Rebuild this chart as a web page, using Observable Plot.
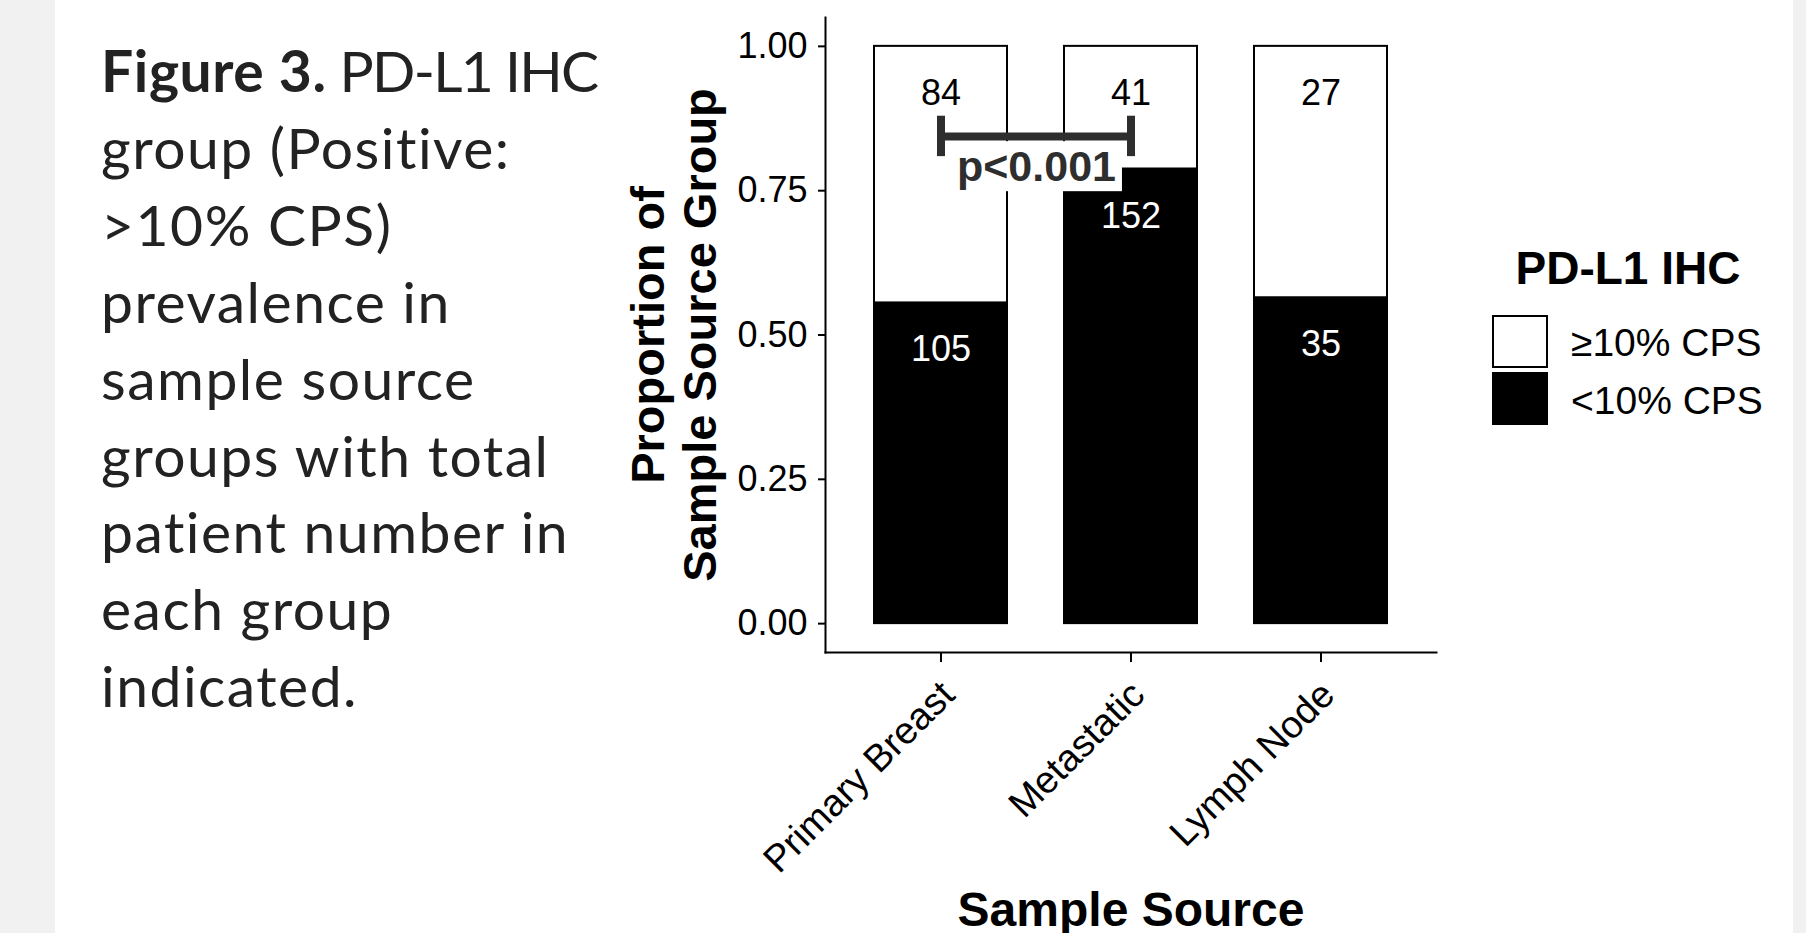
<!DOCTYPE html>
<html><head><meta charset="utf-8">
<script src="https://cdn.jsdelivr.net/npm/d3@7"></script>
<script src="https://cdn.jsdelivr.net/npm/@observablehq/plot@0.6"></script>
<style>
html,body{margin:0;padding:0;width:1806px;height:933px;overflow:hidden;background:#f1f1f1;}
#page{position:absolute;left:55px;top:0;width:1738px;height:933px;background:#fff;}
#caption{position:absolute;left:101px;top:32px;font-family:Lato,"Open Sans",sans-serif;font-size:57px;line-height:76.9px;letter-spacing:1.5px;color:#222;white-space:nowrap;}
#caption b{letter-spacing:0.6px;}
#caption .caps{letter-spacing:-1.7px;}
#chart{position:absolute;left:0;top:0;}
.lg{position:absolute;font-family:"Liberation Sans",Arial,sans-serif;color:#000;white-space:nowrap;}
.key{position:absolute;box-sizing:border-box;border:2px solid #000;}
</style></head><body>
<div id="page"></div>
<div id="caption"></div>
<div id="chart"></div>
<div id="legend"></div>
<script>
// ---- data ----
const sources = ["Primary Breast", "Metastatic", "Lymph Node"];
const groups = ["<10% CPS", "≥10% CPS"];          // stacking order, bottom to top
const countsLow = [105, 152, 35];                 // <10% CPS
const countsHigh = [84, 41, 27];                  // ≥10% CPS
const fillColors = ["#000000", "#ffffff"];
const textColors = ["#ffffff", "#000000"];
const legendOrder = ["≥10% CPS", "<10% CPS"];
const legendTitle = "PD-L1 IHC";
const yTicks = [0, 0.25, 0.5, 0.75, 1];
const yDomain = [-0.05, 1.05];
const sigPair = ["Primary Breast", "Metastatic"];
const sigLabel = "p<0.001";
const sigY = 0.844;
const sigTick = 0.035;
const yTitle = "Proportion of\nSample Source Group";
const xTitle = "Sample Source";
const captionBold = "Figure 3.";
const captionLines = [" PD-L1 IHC", "group (Positive:", ">10% CPS)", "prevalence in", "sample source", "groups with total", "patient number in", "each group", "indicated."];

// ---- caption ----
const cap = document.getElementById("caption");
captionLines.forEach((t, i) => {
  const div = document.createElement("div");
  if (i === 0) {
    const b = document.createElement("b");
    b.textContent = captionBold;
    div.appendChild(b);
    const s = document.createElement("span");
    s.className = "caps";
    s.textContent = t;
    div.appendChild(s);
  } else {
    div.appendChild(document.createTextNode(t));
  }
  cap.appendChild(div);
});

// ---- chart ----
const rows = sources.flatMap((s, i) => [
  {source: s, group: groups[0], count: countsLow[i]},
  {source: s, group: groups[1], count: countsHigh[i]}
]);
const W = 1806, H = 933, ML = 825, MR = 370, MT = 17, MB = 281;
const step = (W - ML - MR) / 3.2;
const sig = [{x1: sigPair[0], x2: sigPair[1], y: sigY, label: sigLabel}];
const sigEnds = sigPair.map(s => ({x: s, lo: sigY - sigTick, hi: sigY + sigTick}));
const font = "'Liberation Sans', Arial, sans-serif";

const chart = Plot.plot({
  width: W, height: H,
  marginLeft: ML, marginRight: MR, marginTop: MT, marginBottom: MB,
  style: {fontFamily: font, fontSize: "36px", background: "transparent", color: "black", overflow: "visible"},
  x: {domain: sources, paddingInner: 0.3, paddingOuter: 0.25, label: null},
  y: {domain: yDomain, label: null},
  color: {domain: groups, range: fillColors},
  marks: [
    Plot.barY(rows, Plot.stackY({x: "source", y: "count", z: "group", fill: "group", order: groups, offset: "normalize", stroke: "black", strokeWidth: 2})),
    Plot.text(rows, Plot.stackY2({x: "source", y: "count", z: "group", order: groups, offset: "normalize", text: "count", fill: d => textColors[groups.indexOf(d.group)], dy: 47, fontSize: 36})),
    Plot.frame({anchor: "left", strokeWidth: 2}),
    Plot.frame({anchor: "bottom", strokeWidth: 2}),
    Plot.axisY({ticks: yTicks, tickFormat: d3.format(".2f"), tickSize: 7, tickPadding: 11, fontSize: 36, label: null, strokeWidth: 2}),
    Plot.axisX({tickSize: 10, tickFormat: () => "", label: null, strokeWidth: 2}),
    Plot.axisX({tickRotate: -45, tickSize: 0, tickPadding: 36, dx: 7, fontSize: 38, label: null}),
    Plot.text([yTitle], {frameAnchor: "left", rotate: -90, textAnchor: "middle", dx: -152, fontSize: 47, fontWeight: "bold", lineHeight: 1.1}),
    Plot.text([xTitle], {frameAnchor: "bottom", dy: 273, fontSize: 48, fontWeight: "bold"}),
    Plot.link(sig, {x1: "x1", x2: "x2", y1: "y", y2: "y", stroke: "#2e2e2e", strokeWidth: 8}),
    Plot.ruleX(sigEnds, {x: "x", y1: "lo", y2: "hi", stroke: "#2e2e2e", strokeWidth: 8}),
    Plot.text(sig, {x: "x1", y: "y", text: "label", dx: step / 2, dy: 31, fontSize: 43, fontWeight: "bold", fill: "#2e2e2e"})
  ]
});
document.getElementById("chart").appendChild(chart);

// white label box behind the significance text
d3.select(chart).selectAll("text").filter(function() { return this.textContent === sigLabel; }).each(function() {
  const bb = this.getBBox();
  const padX = 6, padY = 1;
  d3.select(this.parentNode).insert("rect", () => this)
    .attr("x", bb.x - padX).attr("y", bb.y - padY)
    .attr("width", bb.width + 2 * padX).attr("height", bb.height + 2 * padY)
    .attr("transform", this.getAttribute("transform"))
    .attr("fill", "white");
});

// ---- legend ----
const lg = document.getElementById("legend");
const title = document.createElement("div");
title.className = "lg";
title.style.cssText = "left:1478px;top:245px;width:300px;text-align:center;font-size:46px;line-height:46px;font-weight:bold;";
title.textContent = legendTitle;
lg.appendChild(title);
legendOrder.forEach((g, i) => {
  const k = document.createElement("div");
  k.className = "key";
  k.style.cssText = `left:1492px;top:${315 + i * 57}px;width:56px;height:53px;background:${fillColors[groups.indexOf(g)]};`;
  lg.appendChild(k);
  const t = document.createElement("div");
  t.className = "lg";
  t.style.cssText = `left:1571px;top:${323 + i * 58}px;font-size:39px;line-height:39px;`;
  t.textContent = g;
  lg.appendChild(t);
});
</script>
</body></html>
